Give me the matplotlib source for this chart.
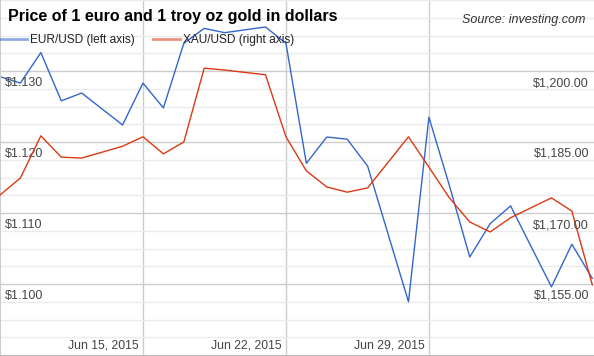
from datetime import datetime
import matplotlib.pyplot as plt
from matplotlib.transforms import blended_transform_factory, offset_copy

plt.rcParams['font.family'] = ['Liberation Sans', 'DejaVu Sans']

dates = ['2015-06-08', '2015-06-09', '2015-06-10', '2015-06-11', '2015-06-12',
         '2015-06-14', '2015-06-15', '2015-06-16', '2015-06-17', '2015-06-18',
         '2015-06-19', '2015-06-21', '2015-06-22', '2015-06-23', '2015-06-24',
         '2015-06-25', '2015-06-26', '2015-06-28', '2015-06-29', '2015-06-30',
         '2015-07-01', '2015-07-02', '2015-07-03', '2015-07-05', '2015-07-06',
         '2015-07-07']
eur_usd = [1.1292, 1.1283, 1.1326, 1.1258, 1.1269, 1.1224, 1.1283, 1.1248, 1.1339,
           1.1360, 1.1354, 1.1362, 1.1339, 1.1170, 1.1207, 1.1204, 1.1166, 1.0975,
           1.1235, 1.1139, 1.1038, 1.1085, 1.1110, 1.0996, 1.1056, 1.1008]
xau_usd = [1173.8, 1177.4, 1186.3, 1181.8, 1181.6, 1184.1, 1186.1, 1182.5, 1185.0,
           1200.6, 1200.2, 1199.2, 1186.1, 1178.9, 1175.5, 1174.4, 1175.3, 1186.1,
           1179.7, 1173.2, 1168.1, 1166.0, 1169.0, 1173.2, 1170.4, 1154.8]

left_ticks = [1.100, 1.110, 1.120, 1.130]
left_labels = ['$1.100', '$1.110', '$1.120', '$1.130']
right_ticks = [1155, 1170, 1185, 1200]
right_labels = ['$1,155.00', '$1,170.00', '$1,185.00', '$1,200.00']
week_ticks = ['2015-06-15', '2015-06-22', '2015-06-29']
week_labels = ['Jun 15, 2015', 'Jun 22, 2015', 'Jun 29, 2015']

x = [datetime.strptime(d, '%Y-%m-%d') for d in dates]
wx = [datetime.strptime(d, '%Y-%m-%d') for d in week_ticks]

blue = '#3366cc'
red = '#dc3912'
txt = '#444444'

fig = plt.figure(figsize=(5.94, 3.56), dpi=100)
ax = fig.add_axes([0, 1 / 356, 1, 355 / 356])
ax2 = ax.twinx()

ax.set_xlim(datetime(2015, 6, 8), datetime(2015, 7, 7, 2))
ax.set_ylim(1.090, 1.140)
ax2.set_ylim(1140, 1215)

ax.set_yticks(left_ticks)
ax.set_yticks([1.090 + 0.0025 * i for i in range(21)], minor=True)
ax.set_xticks(wx)
ax.grid(which='minor', axis='y', color='#ebebeb', lw=1)
ax.grid(which='major', axis='y', color='#cccccc', lw=1)
ax.grid(which='major', axis='x', color='#cccccc', lw=1)
ax.set_axisbelow(True)
for a in (ax, ax2):
    a.tick_params(which='both', length=0, labelleft=False, labelright=False,
                  labelbottom=False)
    for s in a.spines.values():
        s.set_visible(False)
ax.spines['bottom'].set_visible(True)
ax.spines['bottom'].set_color('#bbbbbb')
ax.spines['left'].set_visible(True)
ax.spines['left'].set_color('#cccccc')

l1, = ax.plot(x, eur_usd, color=blue, lw=1, label='EUR/USD (left axis)')
l2, = ax2.plot(x, xau_usd, color=red, lw=1, label='XAU/USD (right axis)')

# axis labels drawn inside the plot, under their gridlines
tl = blended_transform_factory(ax.transAxes, ax.transData)
for v, s in zip(left_ticks, left_labels):
    ax.text(5 / 594, v, s, transform=offset_copy(tl, fig, y=-12, units='dots'),
            ha='left', va='center', fontsize=9.0, color=txt)
tr = blended_transform_factory(ax2.transAxes, ax2.transData)
for v, s in zip(right_ticks, right_labels):
    ax2.text(589 / 594, v, s, transform=offset_copy(tr, fig, y=-12, units='dots'),
             ha='right', va='center', fontsize=9.0, color=txt)
tb = blended_transform_factory(ax.transData, ax.transAxes)
for d, s in zip(wx, week_labels):
    ax.text(d, 0, s, transform=offset_copy(tb, fig, x=-4, y=10, units='dots'),
            ha='right', va='center', fontsize=8.8, color=txt)

fig.text(8 / 594, 1 - 17 / 356, 'Price of 1 euro and 1 troy oz gold in dollars',
         ha='left', va='center', fontsize=11.5, fontweight='bold', color='black')
fig.text(585 / 594, 1 - 20 / 356, 'Source: investing.com', ha='right', va='center',
         fontsize=9.0, style='italic', color='#333333')

leg = fig.legend([l1, l2], [l1.get_label(), l2.get_label()], loc='center left',
                 bbox_to_anchor=(0, 1 - 40 / 356), ncol=2, frameon=False,
                 fontsize=8.6, handlelength=2.3, handletextpad=0.25,
                 columnspacing=1.45, borderpad=0, borderaxespad=0)
for h in leg.get_lines():
    h.set_linewidth(2)
    h.set_alpha(0.55)
for t in leg.get_texts():
    t.set_color('#222222')

fig.savefig('out.png', dpi=100)
